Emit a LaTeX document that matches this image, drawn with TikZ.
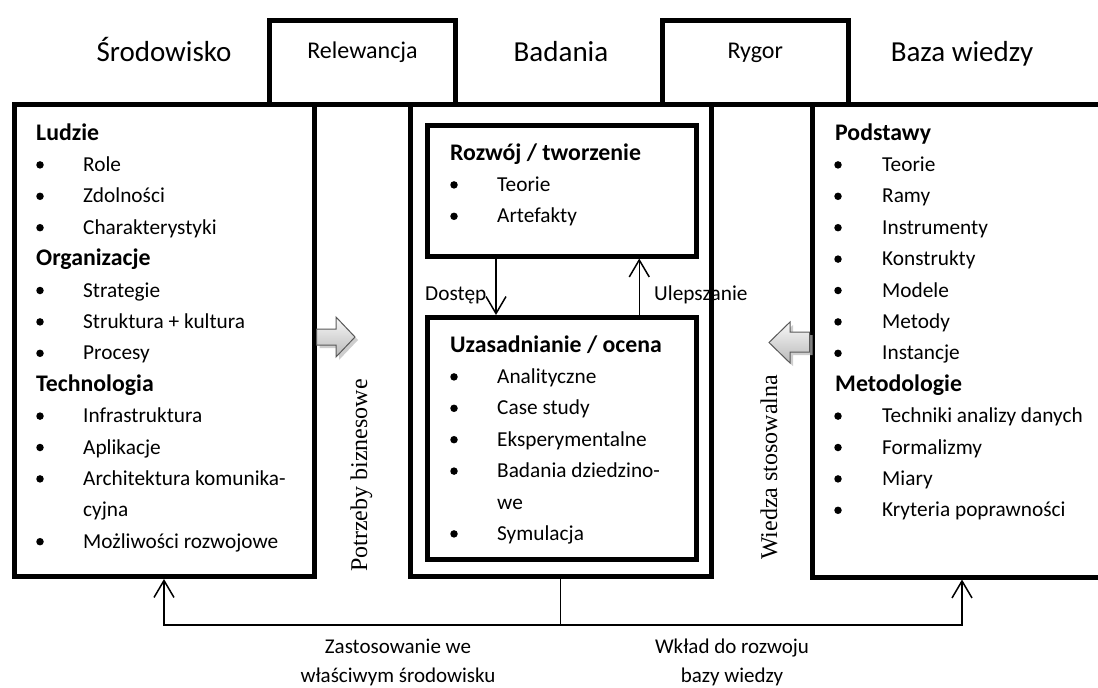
\documentclass[tikz,border=0pt]{standalone}
\usepackage{fontspec}
\setmainfont{Carlito}
\newfontfamily\timesfont{Liberation Serif}
\usetikzlibrary{arrows.meta}

% one list line with a bullet: name, bullet x, text x, baseline y, text
\newcommand\bline[5]{%
  \node[bul, yshift=6.5pt] (#1b) at (#2,#4) {};
  \node[itm] (#1) at (#3,#4) {#5};}
% one list line without a bullet (heading or continued text)
\newcommand\pline[5][itm]{%
  \node[#1] (#2) at (#3,#4) {#5};}

\begin{document}
\begin{tikzpicture}[x=1pt,y=-1pt,
  box/.style={draw, line width=5pt, inner sep=0pt, outer sep=0pt},
  bridge/.style={line width=5pt},
  txt/.style={inner sep=0pt, font=\fontsize{21.3}{25}\selectfont},
  itm/.style={txt, anchor=base west},
  hdg/.style={txt, anchor=base west, font=\fontsize{23.8}{28}\selectfont\bfseries},
  bul/.style={circle, fill, inner sep=0pt, minimum size=7.5pt},
  title/.style={inner sep=0pt, anchor=base, font=\fontsize{29}{34}\selectfont},
  tab/.style={inner sep=0pt, anchor=base, font=\fontsize{24}{28}\selectfont},
  side/.style={inner sep=0pt, anchor=base west, rotate=90, font=\fontsize{24}{28}\timesfont},
  lbl/.style={inner sep=0pt, anchor=base west, font=\fontsize{21.3}{25}\selectfont},
  foot/.style={inner sep=0pt, align=center, anchor=base, font=\fontsize{21}{29}\selectfont},
  barb/.style={line width=1.5pt, -{Straight Barb[length=17pt,width=20pt]}, shorten >=2.5pt},
  link/.style={line width=1.5pt},
  blockarrow/.style={draw=gray!70!black, line width=1pt, top color=gray!5, bottom color=gray!55},
  blockshadow/.style={fill=gray!55, draw=none, opacity=0.7}
]
\useasboundingbox (0,0) rectangle (1098,688);

% headings above the frame
\node[title] (env) at (164,61) {Środowisko};
\node[title] (res) at (561,61) {Badania};
\node[title] (kb) at (962,61) {Baza wiedzy};

% three main columns
\node[box, minimum width=300pt, minimum height=472.5pt] (lbox) at (164,340.25) {};
\node[box, minimum width=301pt, minimum height=472.5pt] (mbox) at (560.5,340.25) {};
\node[box, minimum width=300pt, minimum height=473pt] (rbox) at (962,340.5) {};
\draw[bridge] (lbox.north east) -- (mbox.north west);
\draw[bridge] (mbox.north east) -- (rbox.north west);

% tabs on the top line
\node[box, minimum width=186pt, minimum height=84pt] (relbox) at (362.5,62) {};
\node[box, minimum width=185.5pt, minimum height=84pt] (rigbox) at (755.25,62) {};
\node[tab] (rel) at (362.5,58) {Relewancja};
\node[tab] (rig) at (755.25,58) {Rygor};

% inner boxes of the research column
\node[box, minimum width=268.5pt, minimum height=131pt] (dev) at (561.75,190.5) {};
\node[box, minimum width=268.5pt, minimum height=242pt] (eval) at (561.75,438.5) {};

% left column: environment
\pline[hdg]{l0}{36}{140}{Ludzie}
\bline{l1}{40}{83}{171.4}{Role}
\bline{l2}{40}{83}{202.8}{Zdolności}
\bline{l3}{40}{83}{234.2}{Charakterystyki}
\pline[hdg]{l4}{36}{265.6}{Organizacje}
\bline{l5}{40}{83}{297}{Strategie}
\bline{l6}{40}{83}{328.4}{Struktura + kultura}
\bline{l7}{40}{83}{359.8}{Procesy}
\pline[hdg]{l8}{36}{391.2}{Technologia}
\bline{l9}{40}{83}{422.6}{Infrastruktura}
\bline{l10}{40}{83}{454}{Aplikacje}
\bline{l11}{40}{83}{485.4}{Architektura komunika-}
\pline{l12}{83}{516.8}{cyjna}
\bline{l13}{40}{83}{548.2}{Możliwości rozwojowe}

% right column: knowledge base
\pline[hdg]{r0}{835}{140}{Podstawy}
\bline{r1}{838}{882}{171.4}{Teorie}
\bline{r2}{838}{882}{202.8}{Ramy}
\bline{r3}{838}{882}{234.2}{Instrumenty}
\bline{r4}{838}{882}{265.6}{Konstrukty}
\bline{r5}{838}{882}{297}{Modele}
\bline{r6}{838}{882}{328.4}{Metody}
\bline{r7}{838}{882}{359.8}{Instancje}
\pline[hdg]{r8}{835}{391.2}{Metodologie}
\bline{r9}{838}{882}{422.6}{Techniki analizy danych}
\bline{r10}{838}{882}{454}{Formalizmy}
\bline{r11}{838}{882}{485.4}{Miary}
\bline{r12}{838}{882}{516.8}{Kryteria poprawności}

% research: develop / build
\pline[hdg]{d0}{450}{160}{Rozwój / tworzenie}
\bline{d1}{454}{497}{191.4}{Teorie}
\bline{d2}{454}{497}{222.8}{Artefakty}

% research: justify / evaluate
\pline[hdg]{e0}{450}{352}{Uzasadnianie / ocena}
\bline{e1}{454}{497}{383.4}{Analityczne}
\bline{e2}{454}{497}{414.8}{Case study}
\bline{e3}{454}{497}{446.2}{Eksperymentalne}
\bline{e4}{454}{497}{477.6}{Badania dziedzino-}
\pline{e5}{497}{509}{we}
\bline{e6}{454}{497}{540.4}{Symulacja}

% assess / refine loop
\draw[barb] ([xshift=-65.75pt]dev.south) -- ([xshift=-65.75pt]eval.north);
\draw[barb] ([xshift=77.5pt]eval.north) -- ([xshift=77.5pt]dev.south);
\node[lbl] (acc) at (425,300) {Dostęp};
\node[lbl] (ref) at (654,300) {Ulepszanie};

% business needs / applicable knowledge
\node[side] (needs) at (367,572) {Potrzeby biznesowe};
\node[side] (know) at (777,560) {Wiedza stosowalna};

% block arrows with soft shadows
\fill[blockshadow] (319.5,332) -- (339,332) -- (339,320) -- (358,340) -- (339,360) -- (339,348) -- (319.5,348) -- cycle;
\path[blockarrow] (316.5,329) -- (336,329) -- (336,317) -- (355,337) -- (336,357) -- (336,345) -- (316.5,345) -- cycle;
\fill[blockshadow] (812.5,335) -- (793,335) -- (793,325) -- (772,345.5) -- (793,366) -- (793,355) -- (812.5,355) -- cycle;
\path[blockarrow] (809.5,332) -- (790,332) -- (790,322) -- (769,342.5) -- (790,363) -- (790,352) -- (809.5,352) -- cycle;

% application and contribution feedback
\coordinate (jn) at (560.5,625);
\draw[link] (mbox.south) -- (jn);
\draw[barb] (jn) -| (lbox.south);
\draw[barb] (jn) -| (rbox.south);
\node[foot] (apply) at (398,682) {Zastosowanie we\\właściwym środowisku};
\node[foot] (contrib) at (732,682) {Wkład do rozwoju\\bazy wiedzy};
\end{tikzpicture}
\end{document}
